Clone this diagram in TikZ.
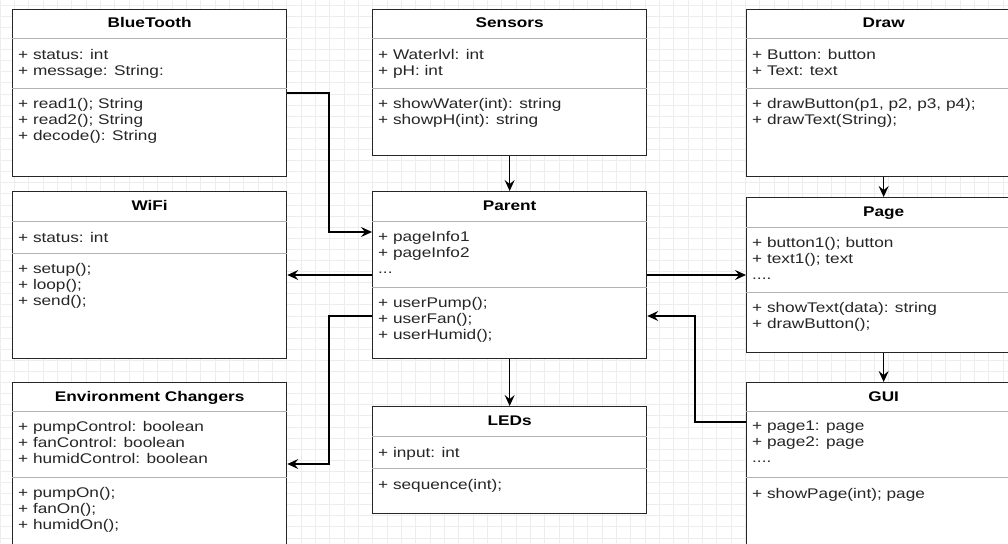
\documentclass[tikz,border=0pt]{standalone}
\usepackage{fontspec}
\setmainfont{Liberation Sans}[FakeStretch=1.23]
\usetikzlibrary{arrows.meta}
\usetikzlibrary{calc}

\tikzset{
  gridline/.style={draw=black!7, line width=0.6pt},
  classbox/.style={draw=black!85, line width=1.3pt, fill=white, anchor=north west, inner sep=0pt, minimum width=274pt},
  sepline/.style={draw=black!30, line width=1pt},
  classtitle/.style={anchor=base, inner sep=0pt, font=\bfseries\fontsize{14}{16}\selectfont},
  members/.style={anchor=north west, inner sep=0pt, align=left, text=black!85, font=\fontsize{14}{16}\selectfont, execute at begin node=\strut},
  conn/.style={draw=black, line width=1.2pt, -{Stealth[length=11pt,width=10pt,inset=4pt]}},
}

% #1 name, #2 x, #3 y, #4 height, #5 first rule, #6 second rule, #7 title, #8 fields, #9 methods
\newcommand{\umlclass}[9]{%
  \node[classbox, minimum height=#4pt] (#1) at (#2,#3) {};
  \draw[sepline] ($(#1.north west)+(0,#5)$) -- ($(#1.north east)+(0,#5)$);
  \draw[sepline] ($(#1.north west)+(0,#6)$) -- ($(#1.north east)+(0,#6)$);
  \node[classtitle] (#1-title) at ($(#1.north)+(0,19)$) {#7};
  \node[members] (#1-fields) at ($(#1.north west)+(6,#5+10)$) {#8};
  \node[members] (#1-methods) at ($(#1.north west)+(6,#6+10)$) {#9};
}

\begin{document}
\begin{tikzpicture}[x=1pt, y=-1pt]
  \useasboundingbox (0,0) rectangle (1008,543);
  \clip (0,0) rectangle (1008,543);

  % background grid
  \foreach \i in {0,...,71}
    \draw[gridline] (\i*14.33,0) -- (\i*14.33,543);
  \foreach \j in {0,...,49}
    \draw[gridline] (0,\j*11.1+5) -- (1008,\j*11.1+5);

  % classes
  \umlclass{bt}{12}{9}{167}{30}{79}{BlueTooth}
    {+ status: int\\+ message: String:}
    {+ read1(); String\\+ read2(); String\\+ decode(): String}
  \umlclass{sensors}{372}{9}{146}{30}{79}{Sensors}
    {+ Waterlvl: int\\+ pH: int}
    {+ showWater(int): string\\+ showpH(int): string}
  \umlclass{draw}{746}{9}{167}{30}{79}{Draw}
    {+ Button: button\\+ Text: text}
    {+ drawButton(p1, p2, p3, p4);\\+ drawText(String);}
  \umlclass{wifi}{12}{191}{167}{30}{62}{WiFi}
    {+ status: int}
    {+ setup();\\+ loop();\\+ send();}
  \umlclass{parent}{372}{191}{167}{30}{96}{Parent}
    {+ pageInfo1\\+ pageInfo2\\...}
    {+ userPump();\\+ userFan();\\+ userHumid();}
  \umlclass{page}{746}{197}{155}{30}{95}{Page}
    {+ button1(); button\\+ text1(); text\\....}
    {+ showText(data): string\\+ drawButton();}
  \umlclass{env}{12}{382}{200}{29}{95}{Environment Changers}
    {+ pumpControl: boolean\\+ fanControl: boolean\\+ humidControl: boolean}
    {+ pumpOn();\\+ fanOn();\\+ humidOn();}
  \umlclass{leds}{372}{406}{107}{30}{62}{LEDs}
    {+ input: int}
    {+ sequence(int);}
  \umlclass{gui}{746}{382}{200}{29}{95}{GUI}
    {+ page1: page\\+ page2: page\\....}
    {+ showPage(int); page}

  % connector levels
  \coordinate (ybt) at (0,93);
  \coordinate (ypar) at (0,232);
  \coordinate (ymid) at (0,275);
  \coordinate (ylow) at (0,316);
  \coordinate (ygui) at (0,422);
  \coordinate (yenv) at (0,464);
  \coordinate (xleft) at (329,0);
  \coordinate (xright) at (695,0);

  % connectors
  \draw[conn] (sensors.south) -- (parent.north);
  \draw[conn] (parent.south) -- (leds.north);
  \draw[conn] (draw.south) -- (page.north);
  \draw[conn] (page.south) -- (gui.north);
  \draw[conn] (bt.east |- ybt) -| (xleft |- ypar) -- (parent.west |- ypar);
  \draw[conn] (parent.west |- ymid) -- (wifi.east |- ymid);
  \draw[conn] (parent.east |- ymid) -- (page.west |- ymid);
  \draw[conn] (parent.west |- ylow) -| (xleft |- yenv) -- (env.east |- yenv);
  \draw[conn] (gui.west |- ygui) -| (xright |- ylow) -- (parent.east |- ylow);
\end{tikzpicture}
\end{document}
